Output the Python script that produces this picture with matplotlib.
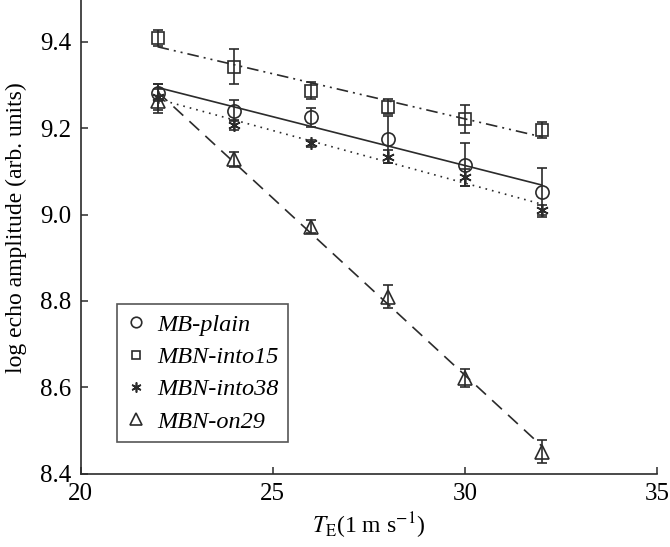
import numpy as np
import matplotlib
matplotlib.use("Agg")
import matplotlib.pyplot as plt
from matplotlib import font_manager

# pick a Times-like face if one is there
names = {f.name for f in font_manager.fontManager.ttflist}
serif = [n for n in ["Liberation Serif", "Times New Roman", "Nimbus Roman", "DejaVu Serif"] if n in names]
plt.rcParams["font.family"] = "serif"
plt.rcParams["font.serif"] = serif
plt.rcParams["mathtext.fontset"] = "stix"

# echo time T_E
te = [22, 24, 26, 28, 30, 32]

# log echo amplitude for each sample, with error bars
mb_plain = [9.282, 9.240, 9.225, 9.174, 9.115, 9.051]
mb_plain_err = [0.020, 0.024, 0.022, 0.055, 0.050, 0.056]

mbn_into15 = [9.408, 9.342, 9.287, 9.250, 9.221, 9.196]
mbn_into15_err = [0.019, 0.040, 0.019, 0.018, 0.032, 0.018]

mbn_into38 = [9.272, 9.207, 9.165, 9.134, 9.086, 9.010]
mbn_into38_err = [0.030, 0.011, 0.008, 0.015, 0.020, 0.012]

mbn_on29 = [9.262, 9.128, 8.972, 8.810, 8.621, 8.451]
mbn_on29_err = [0.028, 0.017, 0.015, 0.026, 0.021, 0.027]

labels = ["MB-plain", "MBN-into15", "MBN-into38", "MBN-on29"]

col = "#2b2b2b"

fig = plt.figure(figsize=(6.7, 5.47), dpi=100)
ax = fig.add_axes([80.7 / 670, 1 - 473.7 / 547, 576.3 / 670, 473.7 / 547])

series = [
    (mb_plain, mb_plain_err, "o", 9.5, "-"),
    (mbn_into15, mbn_into15_err, "s", 8, (0, (7, 3, 1.2, 3, 1.2, 3))),
    (mbn_into38, mbn_into38_err, (6, 2, 0), 9, (0, (1, 3))),
    (mbn_on29, mbn_on29_err, "^", 10, (0, (8, 5))),
]

x = np.array(te)
handles = []
for (vals, errs, mk, ms, ls), lab in zip(series, labels):
    ax.errorbar(te, vals, yerr=errs, fmt="none", ecolor=col, elinewidth=1.2,
                capsize=3.8, capthick=1.2, zorder=3)
    h, = ax.plot(te, vals, linestyle="none", marker=mk, markersize=ms,
                 mfc="none", mec=col, mew=1.2, zorder=4, label=lab)
    handles.append(h)
    k, b = np.polyfit(x, vals, 1)
    ax.plot(x, k * x + b, color=col, linestyle=ls, linewidth=1.2, zorder=2)

ax.set_xlim(20, 35)
ax.set_ylim(8.4, 8.4 + 473.7 / 432)
ax.set_xticks([20, 25, 30, 35])
ax.set_yticks([8.4, 8.6, 8.8, 9.0, 9.2, 9.4])
ax.set_yticklabels(["8.4", "8.6", "8.8", "9.0", "9.2", "9.4"])

for s in ["top", "right"]:
    ax.spines[s].set_visible(False)
for s in ["left", "bottom"]:
    ax.spines[s].set_color(col)
    ax.spines[s].set_linewidth(1.2)

ax.tick_params(direction="in", length=5, width=1.1, color=col,
               labelsize=18, pad=7)

ax.set_ylabel("log echo amplitude (arb. units)", fontsize=17)
ax.yaxis.set_label_coords(-0.094, 0.52)
ax.set_xlabel(r"$T_{\mathrm{E}}$(1 m s$^{-1}$)", fontsize=17, labelpad=4)

leg = ax.legend(handles=handles, loc="lower left",
                bbox_to_anchor=(0.0625, 0.0663), borderaxespad=0,
                prop={"style": "italic", "size": 17.5},
                frameon=True, fancybox=False, handlelength=0.8,
                handletextpad=0.45, labelspacing=0.42, borderpad=0.4,
                markerscale=0.8)
leg.get_frame().set_edgecolor(col)
leg.get_frame().set_linewidth(1.2)

fig.savefig("out.png", dpi=100)
